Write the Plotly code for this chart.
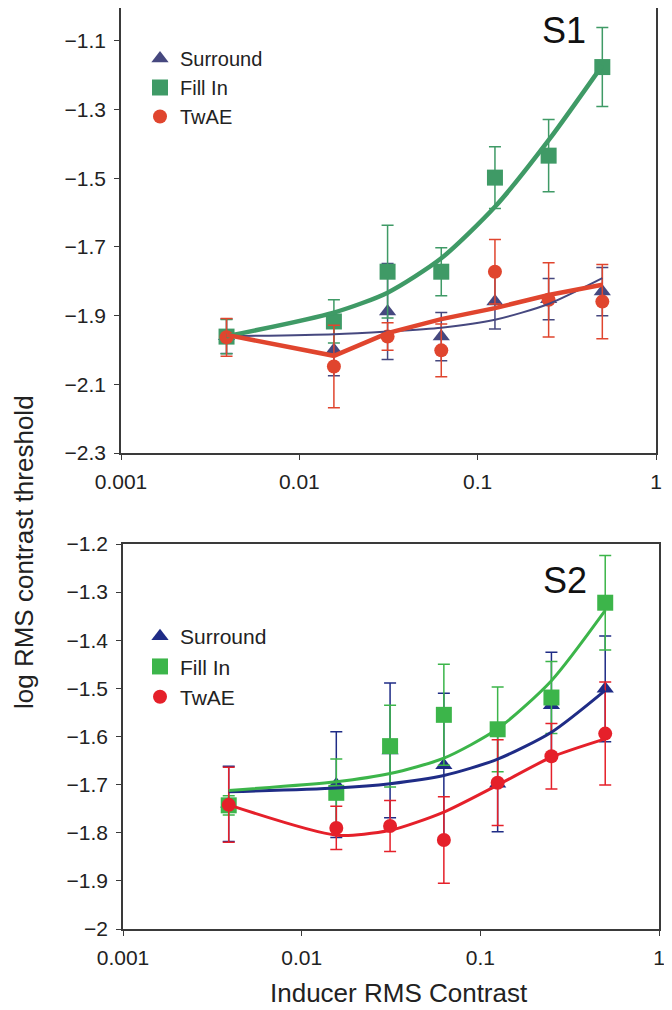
import plotly.graph_objects as go

# inducer contrasts (1/256 ... 1/2)
inducer = [1/256, 1/64, 1/32, 1/16, 1/8, 1/4, 1/2]
series = ['Surround', 'Fill In', 'TwAE']

# S1 thresholds and error bars
s1_surround = [-1.960, -2.000, -1.888, -1.961, -1.859, -1.852, -1.830]
s1_surround_err = [0.05, 0.075, 0.14, 0.07, 0.08, 0.06, 0.07]
s1_fill = [-1.961, -1.917, -1.772, -1.772, -1.498, -1.434, -1.176]
s1_fill_err = [0.05, 0.063, 0.135, 0.07, 0.09, 0.105, 0.115]
s1_twae = [-1.963, -2.048, -1.961, -2.001, -1.772, -1.854, -1.859]
s1_twae_err = [0.055, 0.12, 0.04, 0.077, 0.094, 0.108, 0.108]

# S1 model fits
s1_surround_fit = [-1.960, -1.954, -1.946, -1.935, -1.912, -1.866, -1.791]
s1_fill_fit = [-1.960, -1.891, -1.833, -1.733, -1.583, -1.389, -1.171]
s1_twae_fit = [-1.956, -2.017, -1.951, -1.910, -1.878, -1.840, -1.810]

# S2 thresholds and error bars
s2_surround = [-1.740, -1.700, -1.629, -1.660, -1.698, -1.535, -1.501]
s2_surround_err = [0.078, 0.11, 0.14, 0.15, 0.10, 0.11, 0.11]
s2_fill = [-1.743, -1.717, -1.620, -1.555, -1.585, -1.519, -1.322]
s2_fill_err = [0.02, 0.07, 0.085, 0.105, 0.088, 0.075, 0.098]
s2_twae = [-1.742, -1.790, -1.786, -1.815, -1.696, -1.641, -1.594]
s2_twae_err = [0.078, 0.045, 0.053, 0.09, 0.089, 0.068, 0.107]

# S2 model fits
s2_surround_fit = [-1.715, -1.707, -1.698, -1.681, -1.647, -1.591, -1.504]
s2_fill_fit = [-1.712, -1.694, -1.677, -1.645, -1.584, -1.484, -1.338]
s2_twae_fit = [-1.742, -1.805, -1.795, -1.757, -1.701, -1.643, -1.605]

x_ticks = [0.001, 0.01, 0.1, 1]
x_ticktext = ['0.001', '0.01', '0.1', '1']
s1_yticks = [-1.1, -1.3, -1.5, -1.7, -1.9, -2.1, -2.3]
s2_yticks = [-1.2, -1.3, -1.4, -1.5, -1.6, -1.7, -1.8, -1.9, -2.0]

symbols = ['triangle-up', 'square', 'circle']
sizes = [15, 16, 14]
s1_colors = ['#46487f', '#3f9a66', '#e0452e']
s2_colors = ['#1f2c86', '#3cb54a', '#e5202a']
s1_widths = [2, 4.5, 4.5]
s2_widths = [3, 3, 3]

FONT = 'Liberation Sans, Arial, Helvetica, sans-serif'

# page body has an 8px margin, so the figure is a bit smaller than the window
W, H, OFF = 664, 1002, 8


def px(x):
    return min(1.0, max(0.0, (x - OFF) / W))


def py(y):
    return min(1.0, max(0.0, 1 - (y - OFF) / H))


fig = go.Figure()

panels = [
    ('x', 'y', 'legend', s1_colors, s1_widths,
     [s1_surround, s1_fill, s1_twae],
     [s1_surround_err, s1_fill_err, s1_twae_err],
     [s1_surround_fit, s1_fill_fit, s1_twae_fit],
     ['spline', 'spline', 'linear']),
    ('x2', 'y2', 'legend2', s2_colors, s2_widths,
     [s2_surround, s2_fill, s2_twae],
     [s2_surround_err, s2_fill_err, s2_twae_err],
     [s2_surround_fit, s2_fill_fit, s2_twae_fit],
     ['spline', 'spline', 'spline']),
]

for xa, ya, leg, colors, widths, data, errs, fits, shapes in panels:
    for i, name in enumerate(series):
        # data points with error bars
        fig.add_trace(go.Scatter(
            x=inducer, y=data[i], mode='markers', xaxis=xa, yaxis=ya,
            marker=dict(symbol=symbols[i], size=sizes[i], color=colors[i]),
            error_y=dict(type='data', array=errs[i], color=colors[i],
                         thickness=1.5, width=6),
            showlegend=False,
        ))
    for i, name in enumerate(series):
        # fitted curves
        fig.add_trace(go.Scatter(
            x=inducer, y=fits[i], mode='lines', xaxis=xa, yaxis=ya,
            line=dict(color=colors[i], width=widths[i], shape=shapes[i],
                      smoothing=0.7),
            showlegend=False,
        ))
    for i, name in enumerate(series):
        # legend entries
        fig.add_trace(go.Scatter(
            x=[None], y=[None], mode='markers', name=name, xaxis=xa, yaxis=ya,
            marker=dict(symbol=symbols[i], size=sizes[i], color=colors[i]),
            legend=leg,
        ))

axis_common = dict(
    showline=True, mirror=True, linecolor='#3a3a3a', linewidth=1.5,
    ticks='outside', ticklen=5, tickwidth=1.2, tickcolor='#3a3a3a',
    showgrid=False, zeroline=False, automargin=False,
    tickfont=dict(family=FONT, size=21, color='#222'),
)

fig.update_layout(
    width=W, height=H,
    margin=dict(l=0, r=0, t=0, b=0, autoexpand=False),
    paper_bgcolor='white', plot_bgcolor='white',
    xaxis=dict(type='log', range=[-3, 0], tickvals=x_ticks, ticktext=x_ticktext,
               domain=[px(121), px(656)], anchor='y', ticklabelstandoff=4,
               **axis_common),
    yaxis=dict(range=[-2.3, -1.004], tickvals=s1_yticks, ticklabelstandoff=4,
               domain=[py(453), py(8)], anchor='x', **axis_common),
    xaxis2=dict(type='log', range=[-3, 0], tickvals=x_ticks, ticktext=x_ticktext,
                domain=[px(123), px(659)], anchor='y2', ticklabelstandoff=4,
                **axis_common),
    yaxis2=dict(range=[-2.0, -1.2], tickvals=s2_yticks, ticklabelstandoff=4,
                domain=[py(929), py(544)], anchor='x2', **axis_common),
    legend=dict(x=px(140), y=py(39), xanchor='left', yanchor='top',
                bgcolor='rgba(0,0,0,0)', tracegroupgap=0,
                font=dict(family=FONT, size=20, color='#222')),
    legend2=dict(x=px(140), y=py(616), xanchor='left', yanchor='top',
                 bgcolor='rgba(0,0,0,0)', tracegroupgap=0,
                 font=dict(family=FONT, size=21, color='#222')),
    annotations=[
        dict(text='S1', x=px(564), y=py(30), xref='paper', yref='paper',
             xanchor='center', yanchor='middle', showarrow=False,
             font=dict(family=FONT, size=36, color='#111')),
        dict(text='S2', x=px(565), y=py(580), xref='paper', yref='paper',
             xanchor='center', yanchor='middle', showarrow=False,
             font=dict(family=FONT, size=36, color='#111')),
        dict(text='Inducer RMS Contrast', x=px(399), y=py(993),
             xref='paper', yref='paper', xanchor='center', yanchor='middle',
             showarrow=False, font=dict(family=FONT, size=26, color='#222')),
        dict(text='log RMS contrast threshold', x=px(24), y=py(552),
             xref='paper', yref='paper', xanchor='center', yanchor='middle',
             showarrow=False, textangle=-90,
             font=dict(family=FONT, size=26, color='#222')),
    ],
)

fig.write_html('out.html')
